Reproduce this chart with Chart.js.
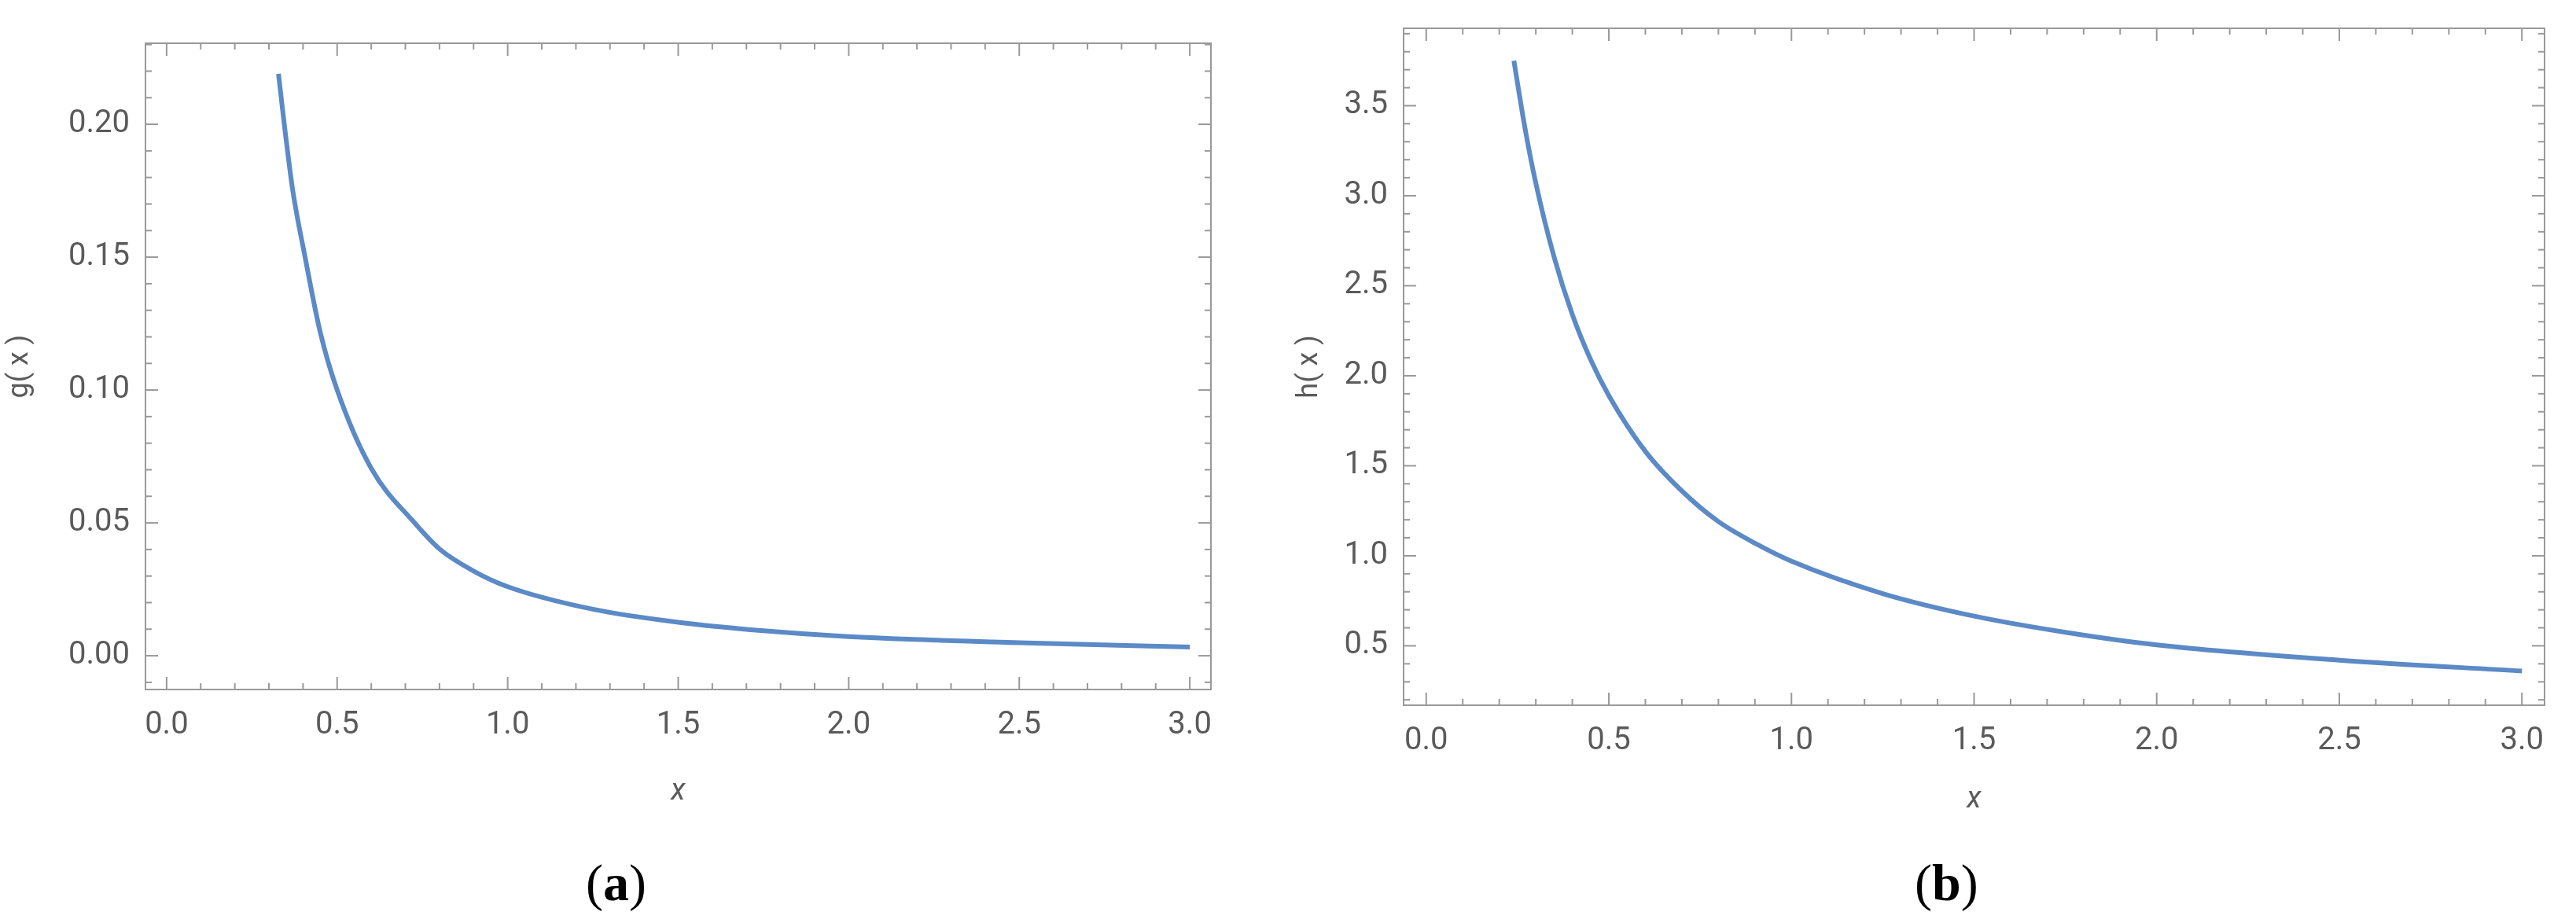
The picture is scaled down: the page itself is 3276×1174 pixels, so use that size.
<!DOCTYPE html>
<html>
<head>
<meta charset="utf-8">
<script src="https://cdn.jsdelivr.net/npm/chart.js@4/dist/chart.umd.min.js"></script>
<style>
  body { margin: 0; background: #fff; width: 3276px; height: 1174px; position: relative; overflow: hidden; }
  .box { position: absolute; top: 0; height: 1060px; }
  .cap { position: absolute; top: 1085px; font-family: 'Liberation Serif', serif; font-size: 66px; color: #000; }
</style>
</head>
<body>
<div class="box" style="left:0;width:1620px"><canvas id="chartG"></canvas></div>
<div class="box" style="left:1640px;width:1636px"><canvas id="chartH"></canvas></div>
<div class="cap" style="left:745px">(<b>a</b>)</div>
<div class="cap" style="left:2435px">(<b>b</b>)</div>
<script>
// g(x)
const gX = [0.328, 0.345, 0.37, 0.406, 0.45, 0.50, 0.60, 0.727, 0.80, 0.90, 1.00, 1.25, 1.50, 1.75, 2.00, 2.50, 3.00];
const gY = [0.219, 0.200, 0.175, 0.150, 0.122, 0.100, 0.0705, 0.050, 0.0402, 0.0319, 0.026, 0.0175, 0.0126, 0.0094, 0.0072, 0.0049, 0.0033];
// h(x)
const hX = [0.24, 0.27, 0.30, 0.35, 0.40, 0.45, 0.50, 0.60, 0.70, 0.80, 0.90, 1.00, 1.25, 1.50, 1.75, 2.00, 2.50, 3.00];
const hY = [3.75, 3.38, 3.07, 2.66, 2.34, 2.09, 1.89, 1.58, 1.36, 1.19, 1.07, 0.97, 0.79, 0.665, 0.575, 0.505, 0.42, 0.36];

const xTicks = [0.0, 0.5, 1.0, 1.5, 2.0, 2.5, 3.0];
const gTicks = [0.00, 0.05, 0.10, 0.15, 0.20];
const hTicks = [0.5, 1.0, 1.5, 2.0, 2.5, 3.0, 3.5];

const gray = '#999999';
const textGray = '#5a5a5a';

// Mathematica-style inward ticks on all four sides
const frameTicks = {
  id: 'frameTicks',
  afterDraw(chart, args, opts) {
    const ctx = chart.ctx, a = chart.chartArea;
    const xs = chart.scales.x, ys = chart.scales.y;
    ctx.save();
    ctx.strokeStyle = gray;
    ctx.lineWidth = 2;
    ctx.strokeRect(a.left, a.top, a.right - a.left, a.bottom - a.top);
    const tick = (x1, y1, x2, y2) => { ctx.beginPath(); ctx.moveTo(x1, y1); ctx.lineTo(x2, y2); ctx.stroke(); };
    for (let v = opts.xMinor[0]; v <= opts.xMinor[1] + 1e-9; v += opts.xMinor[2]) {
      const px = xs.getPixelForValue(v);
      const major = Math.abs(v / opts.xMajor - Math.round(v / opts.xMajor)) < 1e-6;
      const len = major ? 16 : 8;
      tick(px, a.bottom, px, a.bottom - len);
      tick(px, a.top, px, a.top + len);
    }
    for (let v = opts.yMinor[0]; v <= opts.yMinor[1] + 1e-9; v += opts.yMinor[2]) {
      const py = ys.getPixelForValue(v);
      const major = Math.abs(v / opts.yMajor - Math.round(v / opts.yMajor)) < 1e-6;
      const len = major ? 16 : 8;
      tick(a.left, py, a.left + len, py);
      tick(a.right, py, a.right - len, py);
    }
    ctx.restore();
  }
};

function makeChart(id, xs, ys, yTicks, yMin, yMax, yDigits, yTitle, dims, tickOpts) {
  new Chart(document.getElementById(id), {
    type: 'line',
    data: {
      datasets: [{
        data: xs.map((x, i) => ({ x: x, y: ys[i] })),
        borderColor: '#5b8ac6',
        borderWidth: 6,
        pointRadius: 0,
        cubicInterpolationMode: 'monotone',
        fill: false
      }]
    },
    options: {
      responsive: true,
      maintainAspectRatio: false,
      animation: false,
      layout: { padding: { bottom: dims.padBottom } },
      plugins: { legend: { display: false }, tooltip: { enabled: false }, frameTicks: tickOpts },
      scales: {
        x: {
          type: 'linear', min: -0.062, max: 3.062,
          afterBuildTicks: s => { s.ticks = xTicks.map(v => ({ value: v })); },
          afterFit: s => { s.height = dims.bottom; },
          grid: { display: false },
          border: { display: false },
          ticks: { color: textGray, font: { family: 'Roboto', size: 40 }, padding: 14, maxRotation: 0,
                   callback: v => v.toFixed(1) },
          title: { display: true, text: 'x', color: textGray, padding: 0,
                   font: { family: 'Roboto', size: 38, style: 'italic' } }
        },
        y: {
          type: 'linear', min: yMin, max: yMax,
          afterBuildTicks: s => { s.ticks = yTicks.map(v => ({ value: v })); },
          afterFit: s => { s.width = dims.left; },
          grid: { display: false },
          border: { display: false },
          ticks: { color: textGray, font: { family: 'Roboto', size: 40 }, padding: 12,
                   callback: v => v.toFixed(yDigits) },
          title: { display: true, text: yTitle, color: textGray, padding: { bottom: 4 },
                   font: { family: 'Roboto', size: 36 } }
        },
        x2: { position: 'top', display: true, grid: { display: false }, border: { display: false },
              ticks: { display: false }, afterFit: s => { s.height = dims.top; } },
        y2: { position: 'right', display: true, grid: { display: false }, border: { display: false },
              ticks: { display: false }, afterFit: s => { s.width = dims.right; } }
      }
    },
    plugins: [frameTicks]
  });
}

makeChart('chartG', gX, gY, gTicks, -0.0127, 0.2305, 2, 'g( x )',
  { left: 185, right: 80, top: 55, bottom: 153, padBottom: 30 },
  { xMinor: [0, 3, 0.1], xMajor: 0.5, yMinor: [-0.01, 0.23, 0.01], yMajor: 0.05 });

makeChart('chartH', hX, hY, hTicks, 0.17, 3.93, 1, 'h( x )',
  { left: 145, right: 40, top: 36, bottom: 143, padBottom: 20 },
  { xMinor: [0, 3, 0.1], xMajor: 0.5, yMinor: [0.2, 3.9, 0.1], yMajor: 0.5 });
</script>
</body>
</html>
